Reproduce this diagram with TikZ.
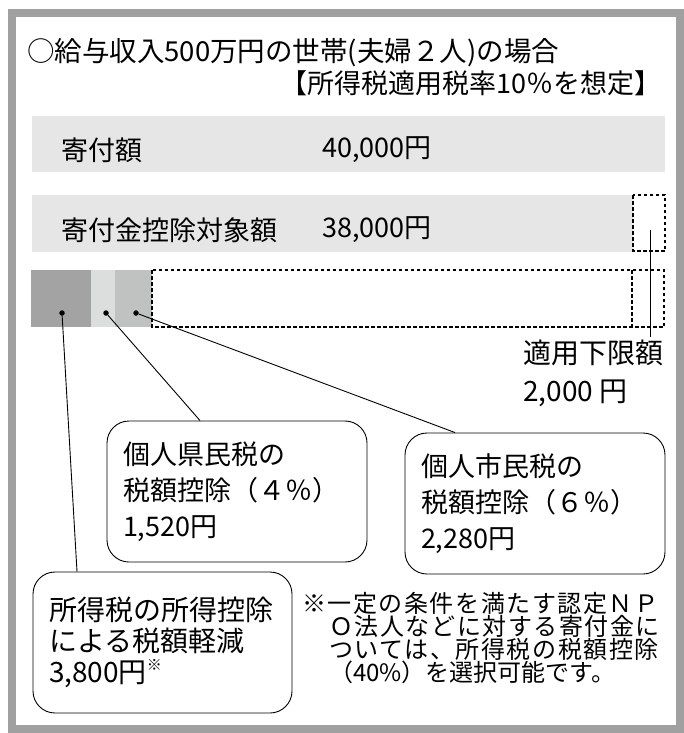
\documentclass[tikz,border=0pt]{standalone}
\usepackage{fontspec}
\setmainfont{Noto Sans CJK JP}
\newfontfamily\notefont[LetterSpace=6.5]{Noto Sans CJK JP}
\newfontfamily\noteplain{Noto Sans CJK JP}

\definecolor{framegray}{HTML}{A0A0A0}
\definecolor{bargray}{HTML}{E6E6E6}
\definecolor{segdark}{HTML}{A2A3A2}
\definecolor{seglight}{HTML}{DCDEDD}
\definecolor{segmid}{HTML}{C0C2C1}

\tikzset{
	dashbox/.style={dash pattern=on 3.5pt off 2.5pt, line width=1.5pt},
	callout/.style={draw, rounded corners=22pt, line width=0.9pt, align=left, inner xsep=16pt, inner ysep=0pt, minimum height=141pt, text width=228pt},
	dot/.style={circle, fill, inner sep=0pt, minimum size=5.5pt},
	lbl/.style={inner sep=0pt, anchor=west},
}

\begin{document}
\begin{tikzpicture}[x=1pt,y=-1pt, font=\fontsize{27}{36}\selectfont]
		\useasboundingbox (0,0) rectangle (684,733);
		\draw[line width=8pt, framegray] (11.5,13.5) rectangle (680,729);
		
		\node[lbl, font=\fontsize{27.5}{27.5}\selectfont] (title) at (27,53) {○給与収入500万円の世帯(夫婦２人)の場合};
		\node[lbl, anchor=east, font=\fontsize{27}{27}\selectfont] (subtitle) at (662,83) {【所得税適用税率10％を想定】};
		
		\fill[bargray] (32,116) rectangle (665,172);
		\fill[bargray] (32,195) rectangle (633,252);
		\draw[dashbox] (633,195) rectangle (665,251);
		\node[lbl] (kifu) at (61,150) {寄付額};
		\node[lbl] (kifu-val) at (322,150) {40,000円};
		\node[lbl] (taisho) at (61,230) {寄付金控除対象額};
		\node[lbl] (taisho-val) at (322,230) {38,000円};
		
		\fill[segdark] (31,270) rectangle (91,327);
		\fill[seglight] (91,270) rectangle (115,327);
		\fill[segmid] (115,270) rectangle (152,327);
		\draw[dashbox] (152,270) rectangle (664,327);
		\draw[dashbox] (632,270) -- (632,327);
		
		\node[dot] (dot-shotoku) at (62,313) {};
		\node[dot] (dot-ken) at (106,313) {};
		\node[dot] (dot-shi) at (136,313) {};
		
		\node[lbl, align=left, font=\fontsize{28}{38}\selectfont] (kagen) at (523,373) {適用下限額\\2,000 円};
		\coordinate (kagen-top) at (650,230);
		\coordinate (kagen-bot) at (650,337);
		\draw[line width=0.9pt] (kagen-top) -- (kagen-bot);
		
		\node[callout] (kenmin) at (237,491.5) {個人県民税の\\税額控除（４％）\\1,520円};
		\node[callout] (shimin) at (535,503.5) {個人市民税の\\税額控除（６％）\\2,280円};
		\node[callout, minimum width=259pt, text width=227pt, font=\fontsize{28}{31}\selectfont] (shotoku) at (162.5,642.5) {所得税の所得控除\\による税額軽減\\3,800円\raisebox{0.45em}{\fontsize{15}{15}\selectfont ※}};
		
		\draw[line width=0.9pt] (dot-ken) -- ([xshift=-37pt]kenmin.north);
		\draw[line width=0.9pt] (dot-shi) -- ([xshift=-80pt]shimin.north);
		\draw[line width=0.9pt] (dot-shotoku) -- ([xshift=-85.5pt]shotoku.north);
		
		% note on the NPO case
		\node[lbl, align=left, font=\notefont\fontsize{24}{23}\selectfont] (note) at (302,638) {※一定の条件を満たす認定ＮＰ\\\hspace*{27pt}Ｏ法人などに対する寄付金に\\\hspace*{27pt}ついては、所得税の税額控除\\\hspace*{27pt}{\noteplain （40\%）を選択可能です。}};
	\end{tikzpicture}
\end{document}
